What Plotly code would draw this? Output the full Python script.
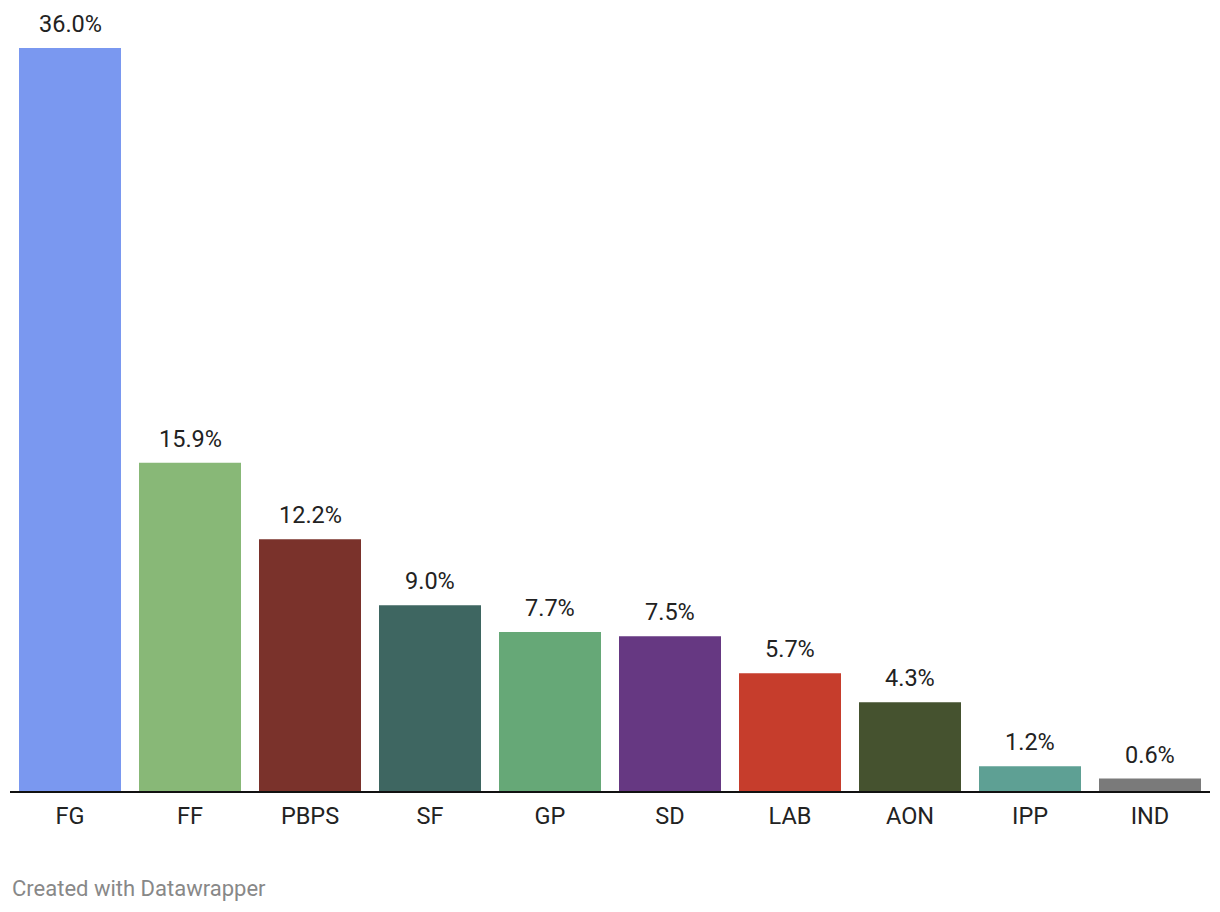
import plotly.graph_objects as go

parties = ["FG", "FF", "PBPS", "SF", "GP", "SD", "LAB", "AON", "IPP", "IND"]
shares = [36.0, 15.9, 12.2, 9.0, 7.7, 7.5, 5.7, 4.3, 1.2, 0.6]
colors = ["#7a98f0", "#88b877", "#7a322b", "#3e6661", "#66a877",
          "#663882", "#c63d2c", "#45522f", "#5ea094", "#7a7a7a"]
labels = [f"{v:.1f}%" for v in shares]

fig = go.Figure()
fig.add_trace(go.Bar(
    x=parties, y=shares, marker=dict(color=colors, line=dict(width=0)),
    hoverinfo="skip", showlegend=False,
))

for p, v, t in zip(parties, shares, labels):
    fig.add_annotation(x=p, y=v, text=t, showarrow=False, yanchor="bottom",
                       yshift=8, font=dict(family="Roboto", size=23.5, color="#222222"))

fig.add_annotation(xref="paper", yref="paper", x=0, y=-0.126, xanchor="left", yanchor="middle",
                   text="Created with Datawrapper", showarrow=False,
                   font=dict(family="Roboto", size=22, color="#888888"))

fig.update_layout(
    width=1220, height=912,
    margin=dict(l=10, r=10, t=20, b=121),
    paper_bgcolor="white", plot_bgcolor="white",
    bargap=0.15,
    font=dict(family="Roboto", size=23.5, color="#222222"),
    xaxis=dict(showgrid=False, showline=True, linecolor="#111111", linewidth=2,
               ticks="", ticklabelstandoff=3,
               tickfont=dict(size=23.5, color="#222222"), fixedrange=True),
    yaxis=dict(range=[0, 771 / 20.64], showgrid=False, zeroline=False,
               showticklabels=False, fixedrange=True),
)

fig.write_html("out.html", config={"displayModeBar": False},
               post_script="document.body.style.margin='0px';")
